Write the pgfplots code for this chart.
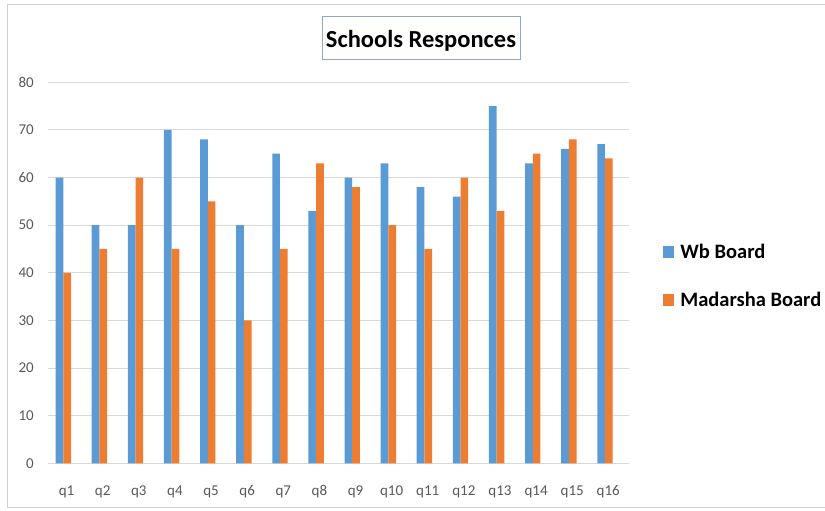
\documentclass[border=0pt]{standalone}
\usepackage{fontspec}
\setmainfont{Carlito}
\usepackage{pgfplots}
\pgfplotsset{compat=1.18}
\usepackage{pgfplotstable}

\definecolor{wbblue}{HTML}{5B9BD5}
\definecolor{madorange}{HTML}{ED7D31}
\definecolor{gridgray}{HTML}{D9D9D9}
\definecolor{ticktext}{HTML}{595959}
\definecolor{framegray}{HTML}{D0D0D0}
\definecolor{titleframe}{HTML}{8FA8C8}

% responses per question: West Bengal board and Madarsha board schools
\pgfplotstableread{
q  wb  mad
0  60  40
1  50  45
2  50  60
3  70  45
4  68  55
5  50  30
6  65  45
7  53  63
8  60  58
9  63  50
10 58  45
11 56  60
12 75  53
13 63  65
14 66  68
15 67  64
}\responses

\begin{document}
\begin{tikzpicture}[x=1pt,y=1pt]
\useasboundingbox (0,0) rectangle (825,511);
% chart area frame
\draw[framegray, line width=1pt] (830,506.5) -- (7,506.5) -- (7,3) -- (830,3);

\begin{axis}[
  at={(47.7pt,47.7pt)}, anchor=south west,
  scale only axis, width=581.3pt, height=381pt,
  xmin=-0.432, xmax=15.665, ymin=0, ymax=80,
  ybar=0pt, bar width=7.7pt,
  xtick={0,...,15},
  xticklabels={q1,q2,q3,q4,q5,q6,q7,q8,q9,q10,q11,q12,q13,q14,q15,q16},
  ytick={0,10,...,80},
  ymajorgrids, major grid style={gridgray, line width=1pt},
  axis line style={draw=none}, tick style={draw=none},
  tick label style={font=\fontsize{15}{18}\selectfont, text=ticktext, inner sep=0pt},
  xticklabel style={anchor=base, yshift=-28pt, xshift=3.3pt},
  yticklabel style={anchor=east, xshift=-13.7pt},
  /pgf/number format/assume math mode=true,
  legend style={draw=none, fill=none, at={(1.053,0.4916)}, anchor=west,
    font=\bfseries\fontsize{20.5}{24}\selectfont, row sep=28pt,
    /tikz/every odd column/.append style={column sep=4pt}},
  legend cell align=left,
  legend image code/.code={\fill[#1] (0pt,-5.7pt) rectangle (11.4pt,5.7pt);},
]
\addplot[fill=wbblue, draw=none] table[x=q, y=wb] {\responses};
\addlegendentry{Wb Board}
\addplot[fill=madorange, draw=none] table[x=q, y=mad] {\responses};
\addlegendentry{Madarsha Board}
\end{axis}

\node[draw=titleframe, line width=1pt, fill=white, minimum width=198pt,
  minimum height=43pt, inner sep=0pt, text depth=0pt,
  font=\bfseries\fontsize{24.5}{29}\selectfont] at (421,472.5) {Schools Responces};
\end{tikzpicture}
\end{document}
